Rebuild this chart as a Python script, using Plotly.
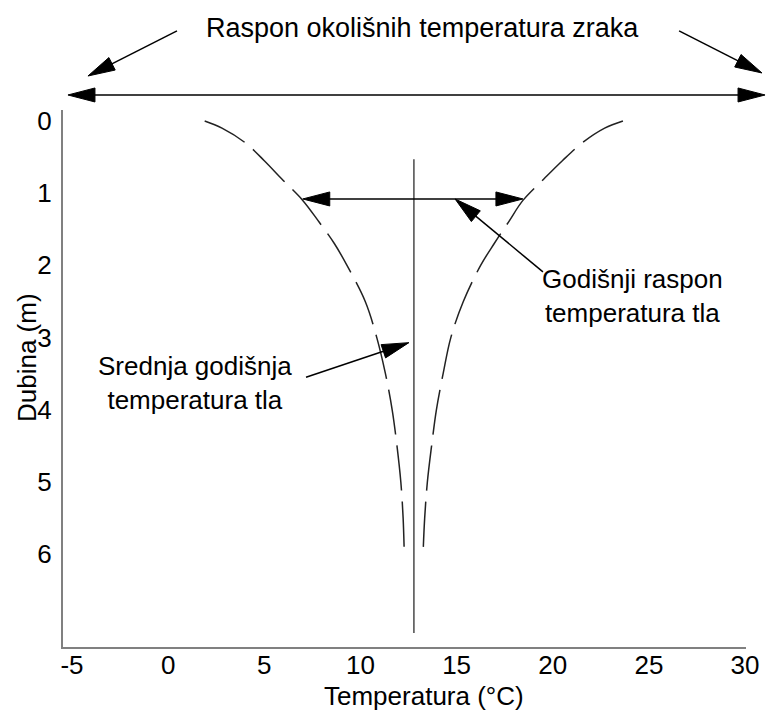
import math
import plotly.graph_objects as go

# ---------------- data ----------------
depth_m = [0.0, 0.1, 0.3, 0.55, 0.8, 1.1, 1.4, 1.7, 2.0, 2.5, 3.0, 3.5, 4.0, 4.5, 5.0, 5.5, 5.9]
temp_min = [1.9, 2.8, 4.0, 5.0, 5.9, 7.0, 7.85, 8.65, 9.3, 10.25, 10.85, 11.3, 11.65, 11.9, 12.1, 12.22, 12.27]
temp_max = [23.65, 22.7, 21.55, 20.5, 19.55, 18.45, 17.7, 16.95, 16.25, 15.35, 14.7, 14.3, 13.95, 13.7, 13.48, 13.34, 13.27]
mean_temp = 12.78
mean_depth = [0.53, 7.09]

x_ticks = [-5, 0, 5, 10, 15, 20, 25, 30]
y_ticks = [0, 1, 2, 3, 4, 5, 6]

title_text = "Raspon okolišnih temperatura zraka"
x_title = "Temperatura (°C)"
y_title = "Dubina (m)"
label_annual = "Godišnji raspon<br>temperatura tla"
label_mean = "Srednja godišnja<br>temperatura tla"

# arrows: (tail T, tail depth, tip T, tip depth, double-headed)
arrows = [
    (-5.21, -0.36, 31.04, -0.36, True),     # air temperature range
    (0.46, -1.247, -4.17, -0.623, False),   # label -> left
    (26.57, -1.247, 30.88, -0.665, False),  # label -> right
    (7.0, 1.08, 18.45, 1.08, True),         # annual ground range
    (19.49, 2.09, 14.92, 1.08, False),      # annual label arrow
    (7.17, 3.55, 12.52, 3.07, False),       # mean label arrow
]

# ---------------- layout geometry ----------------
W, H = 767, 711
ML, MR, MT, MB = 63, 21, 110, 64
PW, PH = W - ML - MR, H - MT - MB
x_range = [-5.468, 30.05]
y_range = [7.285, -0.152]  # reversed (depth grows downward)

FONT = "Liberation Sans, Arial, sans-serif"


def to_paper(t, d):
    px = (t - x_range[0]) / (x_range[1] - x_range[0])
    py = (y_range[0] - d) / (y_range[0] - y_range[1])
    return px, py


def pix_to_paper(px, py):
    return (px - ML) / PW, (H - MB - py) / PH


def dash_for(xs, ys, gap=11.0, period=56.0):
    # fit a long-dash pattern so the curve starts and ends with a full dash
    kx = PW / (x_range[1] - x_range[0])
    ky = PH / (y_range[0] - y_range[1])
    L = sum(math.hypot((xs[i + 1] - xs[i]) * kx, (ys[i + 1] - ys[i]) * ky)
            for i in range(len(xs) - 1))
    n = max(1, round((L + gap) / period))
    p = (L + gap) / n
    return f"{p - gap:.2f}px,{gap:.0f}px"


fig = go.Figure()

fig.add_trace(go.Scatter(x=temp_min, y=depth_m, mode="lines", line_shape="spline",
                         line=dict(color="#222222", width=1.5, dash=dash_for(temp_min, depth_m)),
                         showlegend=False, hoverinfo="skip"))
fig.add_trace(go.Scatter(x=temp_max, y=depth_m, mode="lines", line_shape="spline",
                         line=dict(color="#222222", width=1.5, dash=dash_for(temp_max, depth_m)),
                         showlegend=False, hoverinfo="skip"))
fig.add_trace(go.Scatter(x=[mean_temp, mean_temp], y=mean_depth, mode="lines",
                         line=dict(color="#555555", width=1.6),
                         showlegend=False, hoverinfo="skip"))

HEAD_LEN, HEAD_HALF = 27, 7
shapes = []


def head(tipx, tipy, ux, uy):
    # ux, uy: unit direction in pixels (y up)
    nx, ny = -uy, ux
    bx, by = -ux * HEAD_LEN, -uy * HEAD_LEN
    p1 = (bx + nx * HEAD_HALF, by + ny * HEAD_HALF)
    p2 = (bx - nx * HEAD_HALF, by - ny * HEAD_HALF)
    path = f"M0,0 L{p1[0]:.2f},{p1[1]:.2f} L{p2[0]:.2f},{p2[1]:.2f} Z"
    return dict(type="path", xref="paper", yref="paper", xsizemode="pixel", ysizemode="pixel",
                xanchor=tipx, yanchor=tipy, path=path,
                fillcolor="black", line=dict(color="black", width=1))


for t0, d0, t1, d1, double in arrows:
    ax, ay = to_paper(t0, d0)
    bx, by = to_paper(t1, d1)
    dxp, dyp = (bx - ax) * PW, (by - ay) * PH
    L = math.hypot(dxp, dyp)
    ux, uy = dxp / L, dyp / L
    back = HEAD_LEN * 0.85
    ex, ey = bx - ux * back / PW, by - uy * back / PH
    sx, sy = ax, ay
    if double:
        sx, sy = ax + ux * back / PW, ay + uy * back / PH
        shapes.append(head(ax, ay, -ux, -uy))
    shapes.append(dict(type="line", xref="paper", yref="paper", x0=sx, y0=sy, x1=ex, y1=ey,
                       line=dict(color="black", width=1.5)))
    shapes.append(head(bx, by, ux, uy))

tx, ty = pix_to_paper(422, 28)
ytx, yty = pix_to_paper(27, 358)
xtx, xty = pix_to_paper(424, 696)
gx, gy = pix_to_paper(632, 296)
sx_, sy_ = pix_to_paper(195, 383)

annotations = [
    dict(x=tx, y=ty, xref="paper", yref="paper", xanchor="center", yanchor="middle",
         text=title_text, showarrow=False, font=dict(family=FONT, size=27, color="black")),
    dict(x=gx, y=gy, xref="paper", yref="paper", xanchor="center", yanchor="middle",
         text=label_annual, showarrow=False, font=dict(family=FONT, size=26, color="black")),
    dict(x=sx_, y=sy_, xref="paper", yref="paper", xanchor="center", yanchor="middle",
         text=label_mean, showarrow=False, font=dict(family=FONT, size=26, color="black")),
    dict(x=ytx, y=yty, xref="paper", yref="paper", xanchor="center", yanchor="middle",
         text=y_title, textangle=-90, showarrow=False,
         font=dict(family=FONT, size=26, color="black")),
    dict(x=xtx, y=xty, xref="paper", yref="paper", xanchor="center", yanchor="middle",
         text=x_title, showarrow=False, font=dict(family=FONT, size=26, color="black")),
]

fig.update_layout(
    width=W, height=H,
    margin=dict(l=ML, r=MR, t=MT, b=MB, pad=0, autoexpand=False),
    paper_bgcolor="white", plot_bgcolor="white",
    font=dict(family=FONT, size=26, color="black"),
    shapes=shapes, annotations=annotations,
    xaxis=dict(range=x_range, tickvals=x_ticks, ticktext=[str(v) for v in x_ticks],
               showgrid=False, zeroline=False, showline=True, linecolor="#808080", linewidth=2,
               ticks="", ticklabelstandoff=-6, tickfont=dict(size=26), automargin=False),
    yaxis=dict(range=y_range, tickvals=y_ticks, ticktext=[str(v) for v in y_ticks],
               showgrid=False, zeroline=False, showline=True, linecolor="#808080", linewidth=2,
               ticks="", ticklabelstandoff=4, tickfont=dict(size=26), automargin=False),
    showlegend=False,
)

fig.write_html("out.html", config={"displayModeBar": False},
               post_script="document.body.style.margin='0px';")
